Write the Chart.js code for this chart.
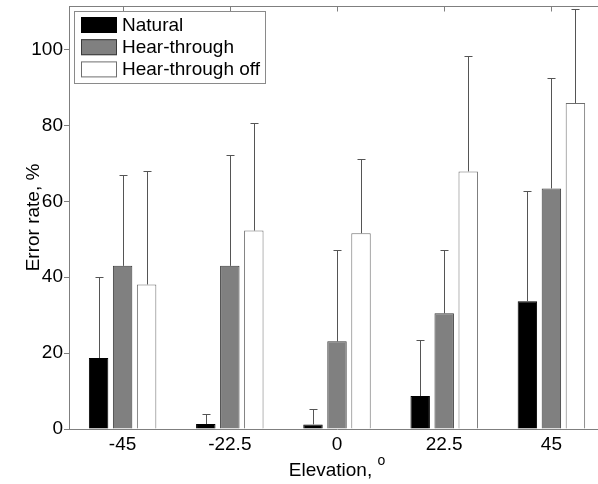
<!DOCTYPE html>
<html>
<head>
<meta charset="utf-8">
<script src="https://cdn.jsdelivr.net/npm/chart.js@4.4.1/dist/chart.umd.min.js"></script>
<style>
  html, body { margin: 0; padding: 0; background: #fff; overflow: hidden; }
  #wrap { position: relative; width: 610px; height: 484px; }
</style>
</head>
<body>
<div id="wrap"><canvas id="c"></canvas></div>
<script>
const categories = ['-45', '-22.5', '0', '22.5', '45'];
const seriesLabels = ['Natural', 'Hear-through', 'Hear-through off'];
const naturalValues = [18.7, 1.3, 1.2, 8.7, 33.7];
const hearThroughValues = [43.0, 43.0, 23.1, 30.5, 63.4];
const hearThroughOffValues = [38.1, 52.3, 51.6, 67.9, 85.9];
const naturalUpper = [40.1, 3.9, 5.2, 23.5, 62.8];
const hearThroughUpper = [66.9, 72.1, 47.3, 47.2, 92.5];
const hearThroughOffUpper = [67.9, 80.7, 71.2, 98.2, 110.7];
const yTicks = [0, 20, 40, 60, 80, 100];
const yMax = 111.5;
const xTitle = 'Elevation,';
const xTitleSup = 'o';
const yTitle = 'Error rate, %';

const FONT = '"Liberation Sans", Arial, sans-serif';
const AXIS = '#7f7f7f';

const errorBarsPlugin = {
  id: 'errorBars',
  afterDatasetsDraw(chart) {
    const ctx = chart.ctx;
    const ys = chart.scales.y;
    ctx.save();
    ctx.strokeStyle = '#555555';
    ctx.lineWidth = 1;
    chart.data.datasets.forEach((ds, i) => {
      const meta = chart.getDatasetMeta(i);
      meta.data.forEach((bar, j) => {
        const top = ds.upper[j];
        const x = Math.round(bar.x) + 0.5;
        const y0 = ys.getPixelForValue(ds.data[j]);
        const y1 = Math.round(ys.getPixelForValue(top)) + 0.5;
        ctx.beginPath();
        ctx.moveTo(x, y0);
        ctx.lineTo(x, y1);
        ctx.moveTo(x - 4, y1);
        ctx.lineTo(x + 4, y1);
        ctx.stroke();
      });
    });
    ctx.restore();
  }
};

const framePlugin = {
  id: 'frame',
  afterDraw(chart) {
    const ctx = chart.ctx;
    const a = chart.chartArea;
    const xs = chart.scales.x;
    ctx.save();
    ctx.strokeStyle = AXIS;
    ctx.lineWidth = 1;
    const top = Math.round(a.top) + 0.5;
    ctx.beginPath();
    ctx.moveTo(a.left, top);
    ctx.lineTo(a.right, top);
    categories.forEach((c, j) => {
      const x = Math.round(xs.getPixelForValue(j)) + 0.5;
      ctx.moveTo(x, top);
      ctx.lineTo(x, top + 5);
    });
    ctx.stroke();

    // x axis title with superscript
    ctx.fillStyle = '#000';
    ctx.textBaseline = 'middle';
    ctx.textAlign = 'left';
    ctx.font = '19px ' + FONT;
    const w1 = ctx.measureText(xTitle + ' ').width;
    ctx.font = '14px ' + FONT;
    const w2 = ctx.measureText(xTitleSup).width;
    const cx = (a.left + a.right) / 2;
    const sx = cx - (w1 + w2) / 2;
    ctx.font = '19px ' + FONT;
    ctx.fillText(xTitle, sx, 471);
    ctx.font = '14px ' + FONT;
    ctx.fillText(xTitleSup, sx + w1, 461);

    // legend
    const lx = 74.5, ly = 11.5, lw = 191, lh = 72;
    ctx.fillStyle = '#ffffff';
    ctx.fillRect(lx, ly, lw, lh);
    ctx.strokeStyle = '#8a8a8a';
    ctx.strokeRect(lx, ly, lw, lh);
    ctx.font = '19px ' + FONT;
    chart.data.datasets.forEach((ds, i) => {
      const sy = 17 + i * 22.2;
      ctx.fillStyle = ds.backgroundColor;
      ctx.fillRect(81, sy, 36, 16);
      ctx.strokeStyle = ds.borderColor;
      ctx.strokeRect(81.5, sy + 0.5, 35, 15);
      ctx.fillStyle = '#000';
      ctx.fillText(ds.label, 122, sy + 8.5);
    });
    ctx.restore();
  }
};

new Chart(document.getElementById('c'), {
  type: 'bar',
  data: {
    labels: categories,
    datasets: [
      { label: seriesLabels[0], data: naturalValues, upper: naturalUpper,
        backgroundColor: '#000000', borderColor: '#000000', borderWidth: 1 },
      { label: seriesLabels[1], data: hearThroughValues, upper: hearThroughUpper,
        backgroundColor: '#808080', borderColor: '#3a3a3a', borderWidth: 1 },
      { label: seriesLabels[2], data: hearThroughOffValues, upper: hearThroughOffUpper,
        backgroundColor: '#ffffff', borderColor: '#6e6e6e', borderWidth: 1 }
    ]
  },
  options: {
    responsive: true,
    maintainAspectRatio: false,
    animation: false,
    devicePixelRatio: 1,
    categoryPercentage: 0.672,
    barPercentage: 0.81,
    layout: { padding: { top: 6, right: 5, left: 0, bottom: 0 } },
    plugins: {
      legend: { display: false },
      tooltip: { enabled: false }
    },
    scales: {
      x: {
        grid: { display: false, drawTicks: false },
        border: { display: true, color: AXIS, width: 1 },
        ticks: { color: '#000', font: { family: FONT, size: 19 }, padding: 4, maxRotation: 0 },
        title: { display: false },
        afterFit(scale) { scale.height = 55; scale.paddingLeft = 0; scale.paddingRight = 0; }
      },
      y: {
        min: 0,
        max: yMax,
        afterBuildTicks(scale) { scale.ticks = yTicks.map(v => ({ value: v })); },
        grid: { drawOnChartArea: false, drawTicks: true, tickLength: 5, color: AXIS },
        border: { display: true, color: AXIS, width: 1 },
        ticks: { color: '#000', font: { family: FONT, size: 19 }, padding: 1 },
        title: { display: true, text: yTitle, color: '#000',
                 font: { family: FONT, size: 19 }, padding: { top: 22, bottom: 0 } },
        afterFit(scale) { scale.width = 69; scale.paddingTop = 0; scale.paddingBottom = 0; }
      }
    }
  },
  plugins: [errorBarsPlugin, framePlugin]
});
</script>
</body>
</html>
